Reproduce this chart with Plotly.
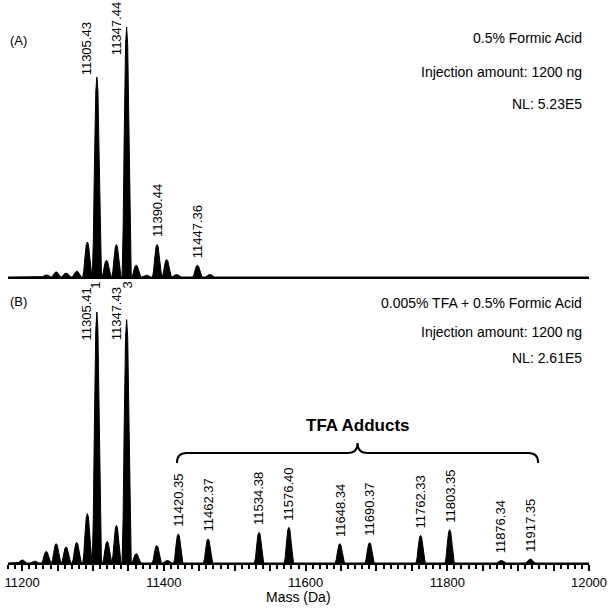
import plotly.graph_objects as go

# panel A: 0.5% formic acid (relative intensity, % of base peak)
mass_a = [11234, 11248, 11262, 11277, 11292, 11305.43, 11319, 11333, 11347.44,
          11361, 11375, 11390.44, 11404, 11418, 11447.36, 11465]
int_a = [0.8, 2, 1.6, 2.4, 14, 80, 6.7, 13, 100, 4.7, 0.8, 13, 7, 1, 4.7, 1]
labels_a = [11305.43, 11347.44, 11390.44, 11447.36]

# panel B: 0.005% TFA + 0.5% formic acid
mass_b = [11200, 11217, 11234, 11248, 11262, 11277, 11292, 11305.41, 11320, 11333,
          11347.43, 11361, 11390, 11405, 11420.35, 11462.37, 11534.38, 11576.40,
          11648.34, 11690.37, 11762.33, 11803.35, 11876.34, 11917.35]
int_b = [1.2, 0.8, 4.6, 7.7, 6.4, 8.2, 19.7, 100, 8.6, 15, 97, 3.7, 7, 1, 11.6, 9.6,
         12.2, 14.2, 7.7, 8.1, 11, 13.3, 1, 1.6]
labels_b = [11305.41, 11347.43]
adducts = [11420.35, 11462.37, 11534.38, 11576.40, 11648.34, 11690.37,
           11762.33, 11803.35, 11876.34, 11917.35]

info_a = ["0.5% Formic Acid", "Injection amount: 1200 ng", "NL: 5.23E5"]
info_b = ["0.005% TFA + 0.5% Formic Acid", "Injection amount: 1200 ng", "NL: 2.61E5"]

FONT = "Arial, Liberation Sans, sans-serif"
W, H = 612, 614
L, R, T, B = 8, 23, 0, 51
PH = H - T - B
XR = [11180, 12000]

# peak profile template (shape only)
DX = [-6.5, -5, -3.5, -1.5, 0, 1.5, 3.5, 5, 6.5]
FY = [0, 0.18, 0.55, 0.93, 1, 0.93, 0.55, 0.18, 0]


def profile(masses, ints):
    xs, ys = [XR[0]], [0]
    for m, h in sorted(zip(masses, ints)):
        for dx, fy in zip(DX, FY):
            xs.append(m + dx)
            ys.append(h * fy)
    xs.append(XR[1])
    ys.append(0)
    return xs, ys


def py(px):
    # pixel row -> paper y
    return (H - B - px) / PH


def px_x(m):
    # mass -> paper x
    return (m - XR[0]) / (XR[1] - XR[0])


fig = go.Figure()
for i, (m, it) in enumerate([(mass_a, int_a), (mass_b, int_b)]):
    xs, ys = profile(m, it)
    fig.add_trace(go.Scatter(
        x=xs, y=ys, mode="lines", fill="tozeroy",
        line=dict(color="black", width=1), fillcolor="black",
        xaxis="x" if i == 0 else "x2", yaxis="y" if i == 0 else "y2",
        showlegend=False, hoverinfo="skip",
    ))

ann = []


def peak_label(m, h, yref, xref):
    big = h > 50
    ann.append(dict(
        x=m, y=min(h, 88) if big else h, xref=xref, yref=yref,
        text=f"{m:.2f}", textangle=-90, showarrow=False,
        xanchor="center", yanchor="bottom",
        xshift=-10 if big else 0, yshift=0 if big else 5,
        font=dict(family=FONT, size=13, color="black"),
    ))


for m in labels_a:
    peak_label(m, int_a[mass_a.index(m)], "y", "x")
for m in labels_b + adducts:
    peak_label(m, int_b[mass_b.index(m)], "y2", "x2")

# clipped label remnants under panel A baseline
for m, t in [(11289, "1"), (11334, "3")]:
    ann.append(dict(x=px_x(m), y=py(285), xref="paper", yref="paper", text=t,
                    textangle=-90, showarrow=False, yanchor="middle",
                    font=dict(family=FONT, size=13, color="black")))

for txts, rows in [(info_a, [38, 72, 104]), (info_b, [303, 332, 358])]:
    for t, r in zip(txts, rows):
        ann.append(dict(x=0.991, y=py(r), xref="paper", yref="paper", text=t,
                        showarrow=False, xanchor="right", yanchor="middle",
                        font=dict(family=FONT, size=14, color="black")))

ann.append(dict(x=0, y=py(40), xref="paper", yref="paper", text="(A)", showarrow=False,
                xanchor="left", yanchor="middle", font=dict(family=FONT, size=13, color="black")))
ann.append(dict(x=0, y=py(302), xref="paper", yref="paper", text="(B)", showarrow=False,
                xanchor="left", yanchor="middle", font=dict(family=FONT, size=13, color="black")))
ann.append(dict(x=0.5, y=py(597), xref="paper", yref="paper", text="Mass (Da)", showarrow=False,
                xanchor="center", yanchor="middle", font=dict(family=FONT, size=14, color="black")))

# brace over the TFA adducts
x0 = min(adducts) - 2
x1 = max(adducts) + 11
xm = (x0 + x1) / 2
r = 14
ye, yh, yt = py(463), py(453), py(443)
brace = (f"M {x0},{ye} Q {x0},{yh} {x0 + r},{yh} L {xm - r},{yh} "
         f"Q {xm},{yh} {xm},{yt} Q {xm},{yh} {xm + r},{yh} "
         f"L {x1 - r},{yh} Q {x1},{yh} {x1},{ye}")
ann.append(dict(x=xm, y=py(425), xref="x2", yref="paper", text="<b>TFA Adducts</b>",
                showarrow=False, xanchor="center", yanchor="middle",
                font=dict(family=FONT, size=17, color="black")))

fig.update_layout(
    width=W, height=H,
    margin=dict(l=L, r=R, t=T, b=B),
    paper_bgcolor="white", plot_bgcolor="white",
    font=dict(family=FONT, color="black"),
    annotations=ann,
    shapes=[dict(type="path", path=brace, xref="x2", yref="paper",
                 line=dict(color="black", width=2))],
    xaxis=dict(range=XR, anchor="y", showline=True, linecolor="black", linewidth=2,
               showticklabels=False, ticks="", showgrid=False, zeroline=False),
    yaxis=dict(domain=[py(277), 1], range=[0, 110.8], visible=False),
    xaxis2=dict(range=XR, anchor="y2", showline=True, linecolor="black", linewidth=2,
                tickmode="linear", tick0=11200, dtick=50, ticklabelstep=4,
                tickformat="d",
                ticks="outside", ticklen=6, tickwidth=2, tickcolor="black",
                ticklabeloverflow="allow",
                minor=dict(dtick=10, tick0=11200, ticks="outside", ticklen=4,
                           tickcolor="black", tickwidth=1.5, showgrid=False),
                tickfont=dict(family=FONT, size=13, color="black"),
                showgrid=False, zeroline=False),
    yaxis2=dict(domain=[0, 276 / PH], range=[0, 110], visible=False),
)

# the default page body has an 8px margin; drop it so the figure sits at the window corner
fig.write_html("out.html", config={"displayModeBar": False},
               post_script="document.body.style.margin='0';")
